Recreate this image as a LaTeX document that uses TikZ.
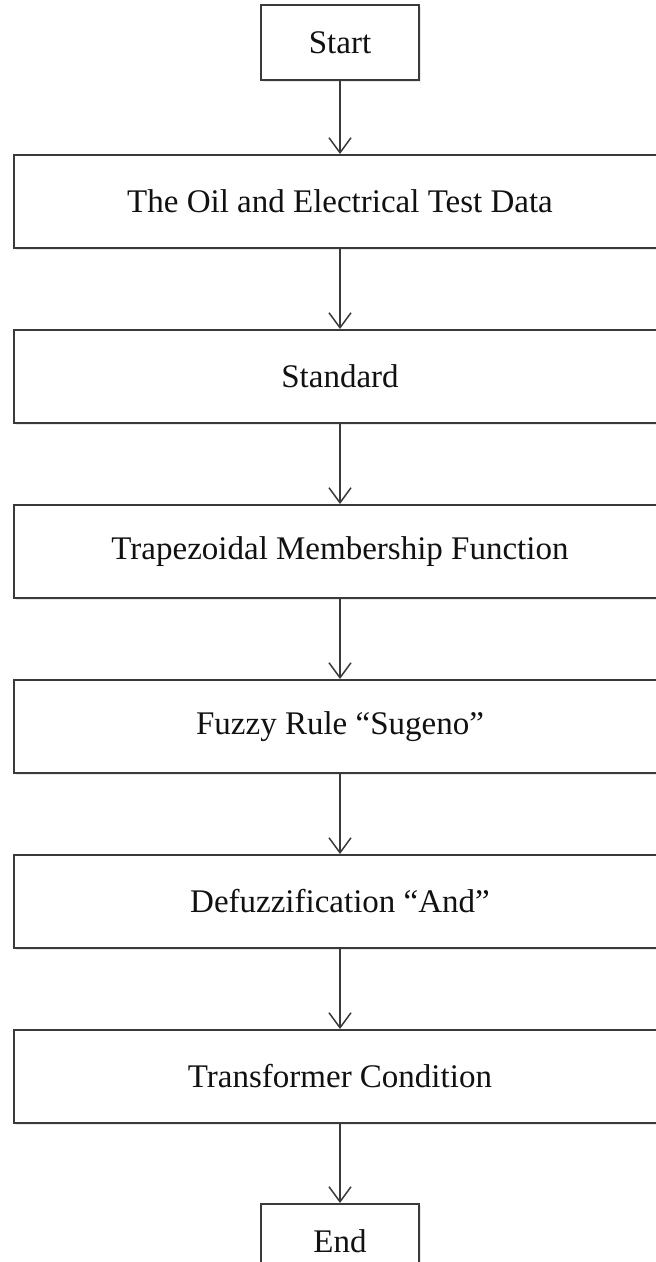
\documentclass[tikz,border=0pt]{standalone}
\usepackage{fontspec}
\setmainfont{Liberation Serif}
\usepackage{xcolor}
\usepackage{tikz}
\usetikzlibrary{arrows.meta,shadows}
\definecolor{edge}{HTML}{3A3A3A}
\definecolor{ink}{HTML}{111111}
\tikzset{
  stepbox/.style={draw=edge, line width=2pt, fill=white, text=ink, inner sep=0pt,
    minimum width=652pt, minimum height=93pt, font=\fontsize{33}{40}\selectfont,
    drop shadow={opacity=0.18, shadow xshift=1.5pt, shadow yshift=-2pt}},
  termbox/.style={stepbox, minimum width=158pt, minimum height=75pt},
  flow/.style={draw=edge, line width=1.5pt, -{Straight Barb[length=15pt,width=22pt,line width=1.5pt]}},
}
\begin{document}
\begin{tikzpicture}[x=1pt,y=-1pt]
  \clip (0,0) rectangle (656,1262);
  \fill[white] (0,0) rectangle (656,1262);
  % blocks
  \node[termbox] (start) at (340,42.5) {Start};
  \node[stepbox] (data) at (340,201.5) {The Oil and Electrical Test Data};
  \node[stepbox] (std) at (340,376.5) {Standard};
  \node[stepbox] (trap) at (340,551.5) {Trapezoidal Membership Function};
  \node[stepbox] (rule) at (340,726.5) {Fuzzy Rule “Sugeno”};
  \node[stepbox] (defuzz) at (340,901.5) {Defuzzification “And”};
  \node[stepbox] (cond) at (340,1076.5) {Transformer Condition};
  \node[termbox] (end) at (340,1241.5) {End};
  % arrows
  \draw[flow] (start) -- (data);
  \draw[flow] (data) -- (std);
  \draw[flow] (std) -- (trap);
  \draw[flow] (trap) -- (rule);
  \draw[flow] (rule) -- (defuzz);
  \draw[flow] (defuzz) -- (cond);
  \draw[flow] (cond) -- (end);
\end{tikzpicture}
\end{document}
